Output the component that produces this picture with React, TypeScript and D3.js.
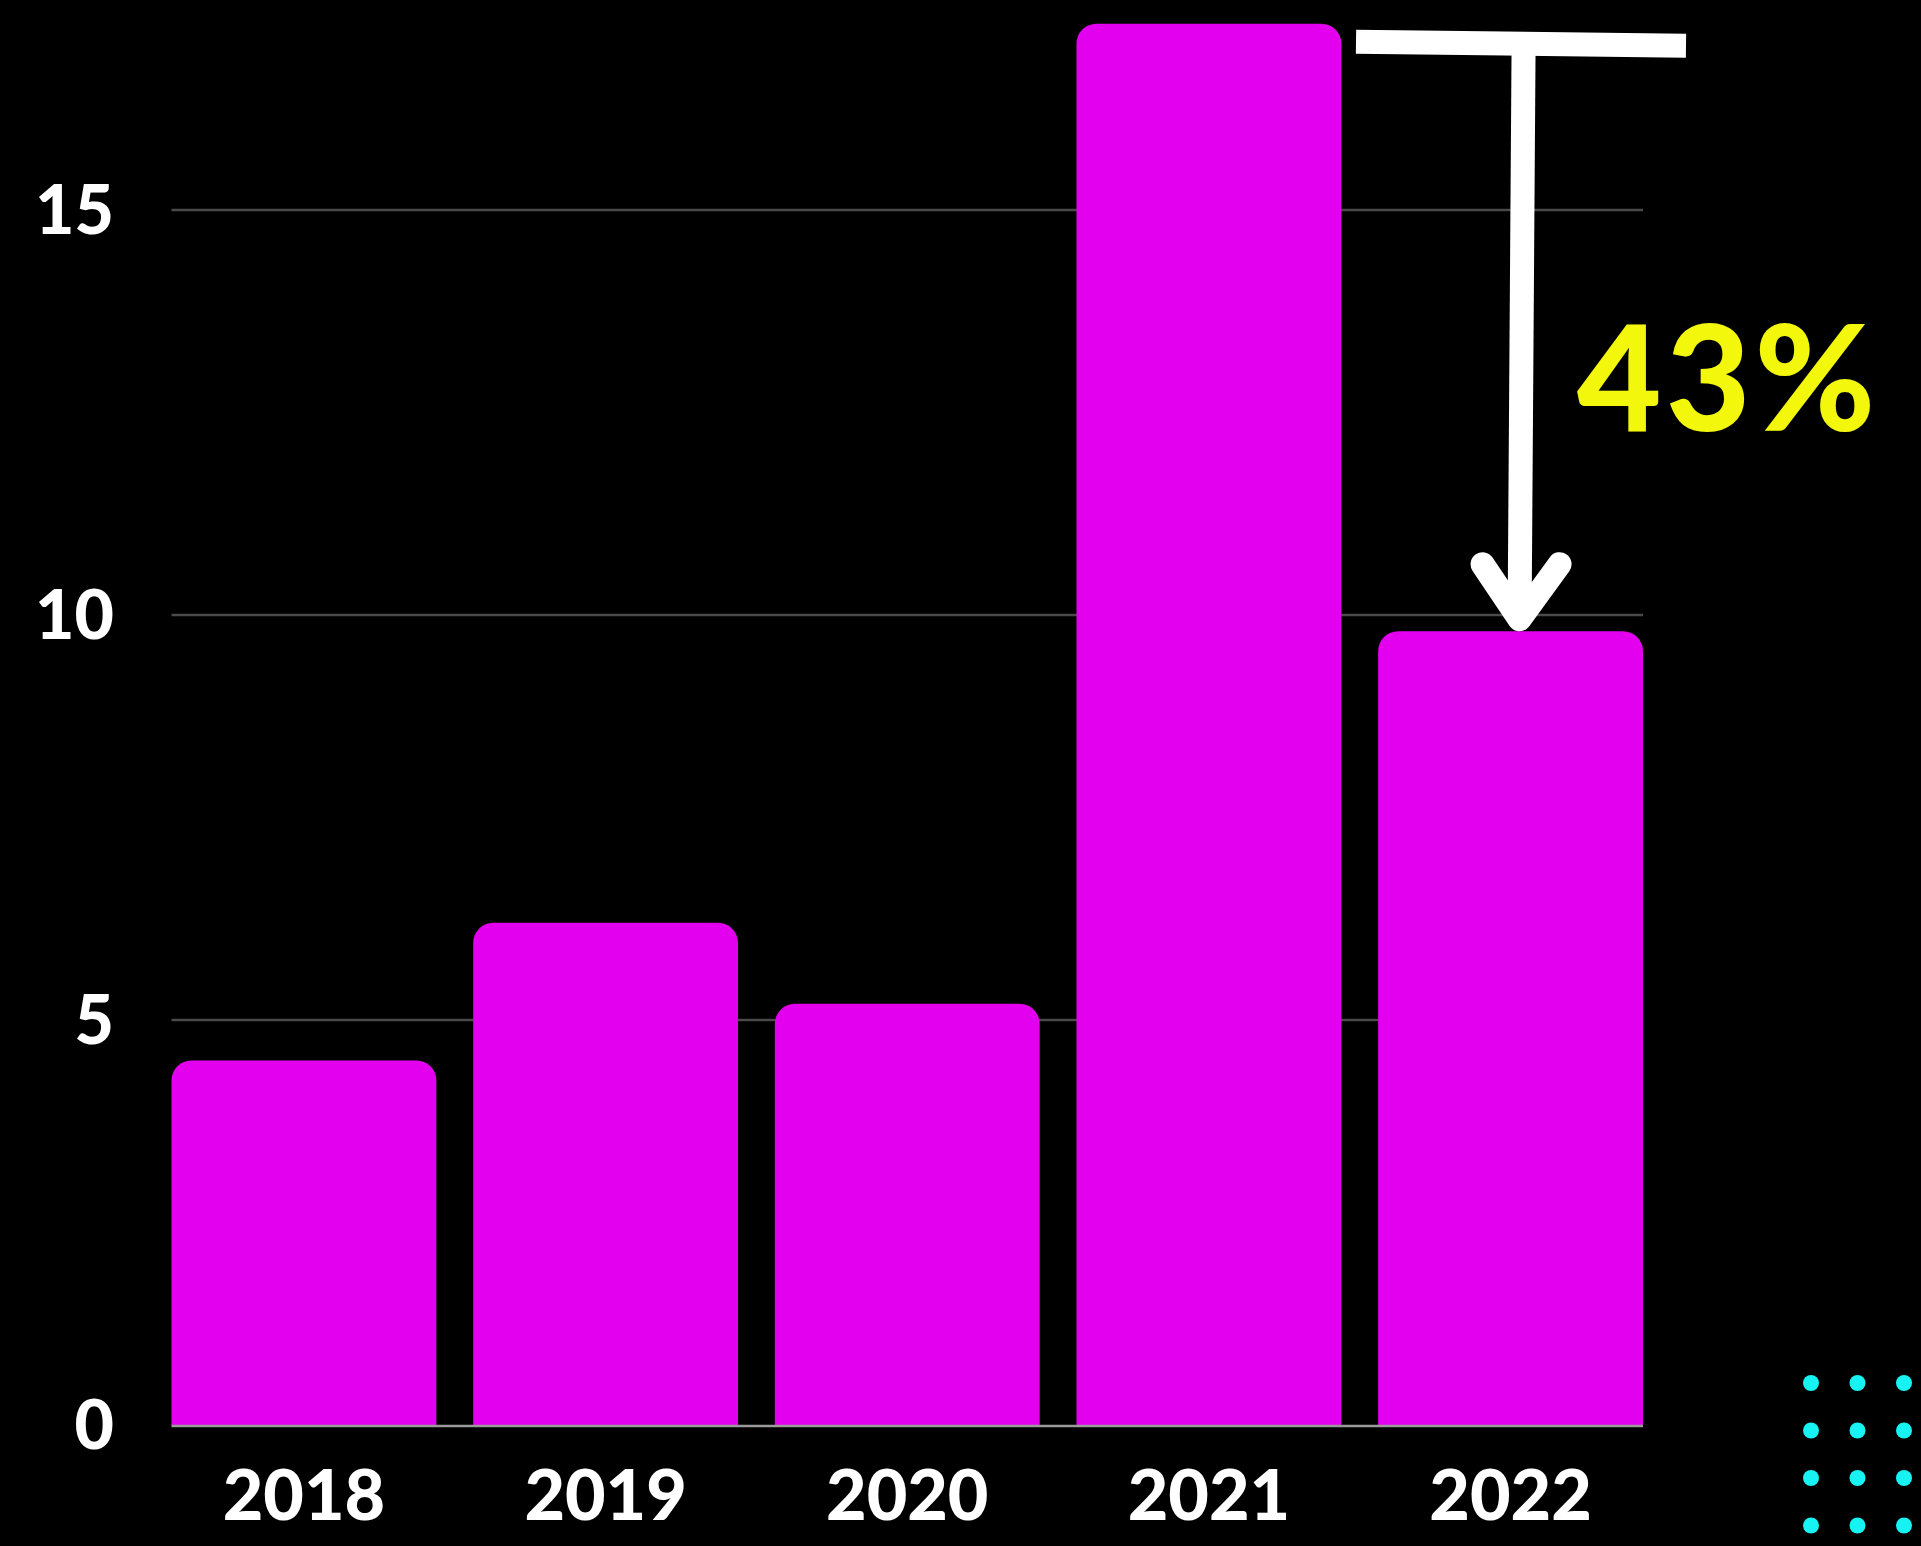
import React from "react";
import * as d3 from "d3";

const years = ["2018", "2019", "2020", "2021", "2022"];
const values = [4.5, 6.2, 5.2, 17.3, 9.8];
const yTicks = [0, 5, 10, 15];

const W = 1921;
const H = 1546;
const FONT = "Lato, 'Open Sans', sans-serif";

export default function App() {
  const x = d3.scaleBand<string>().domain(years).range([171.5, 1643]).paddingInner(0.122).paddingOuter(0);
  const y = d3.scaleLinear().domain([0, 15]).range([1425, 210]);
  const bw = x.bandwidth();
  const r = 20;

  const barPath = (xs: number, yt: number, w: number, yb: number) => {
    const p = d3.path();
    p.moveTo(xs, yb);
    p.lineTo(xs, yt + r);
    p.arcTo(xs, yt, xs + r, yt, r);
    p.lineTo(xs + w - r, yt);
    p.arcTo(xs + w, yt, xs + w, yt + r, r);
    p.lineTo(xs + w, yb);
    p.closePath();
    return p.toString();
  };

  const fromV = values[3];
  const toV = values[4];
  const pct = Math.round((1 - toV / fromV) * 100);
  const cx = (x(years[4]) as number) + bw / 2 + 10;
  const topY = y(fromV) + 20;
  const tipY = y(toV) - 12;
  const head = 55;

  const dotCols = d3.range(3);
  const dotRows = d3.range(4);

  return (
    <div style={{ position: "absolute", left: 0, top: 0, width: W, height: H, background: "#000" }}>
      <svg width={W} height={H} style={{ display: "block" }}>
        <rect x={0} y={0} width={W} height={H} fill="#000" />
        {yTicks.filter((t) => t > 0).map((t) => (
          <line key={t} x1={171.5} x2={1643} y1={y(t)} y2={y(t)} stroke="#4a4a4a" strokeWidth={2.5} />
        ))}
        {years.map((yr, i) => (
          <path key={yr} d={barPath(x(yr) as number, y(values[i]), bw, y(0))} fill="#E300EE" />
        ))}
        <line x1={171.5} x2={1643} y1={y(0) + 1} y2={y(0) + 1} stroke="#9a9a9a" strokeWidth={2.5} />
        {yTicks.map((t) => (
          <text key={t} x={114} y={y(t)} dy="0.36em" textAnchor="end" fill="#fff"
            fontFamily={FONT} fontWeight={900} fontSize={68}>{t}</text>
        ))}
        {years.map((yr) => (
          <text key={yr} x={(x(yr) as number) + bw / 2} y={1520} textAnchor="middle" fill="#fff"
            fontFamily={FONT} fontWeight={900} fontSize={70}>{yr}</text>
        ))}
        {/* annotation */}
        <line x1={1356} y1={topY - 2} x2={1686} y2={topY + 2} stroke="#fff" strokeWidth={24} />
        <line x1={cx + 3} y1={topY + 4} x2={cx - 1} y2={tipY} stroke="#fff" strokeWidth={24} />
        <polyline points={`${cx - 38},${tipY - head} ${cx - 1},${tipY} ${cx + 39},${tipY - head}`}
          fill="none" stroke="#fff" strokeWidth={24} strokeLinecap="round" strokeLinejoin="round" />
        <text x={1577} y={431} fill="#F2F70C" fontFamily={FONT} fontWeight={900} fontSize={146}
          letterSpacing={4}>{pct}%</text>
        {dotRows.map((ri) => dotCols.map((ci) => (
          <circle key={`${ri}-${ci}`} cx={1811 + ci * 46.5} cy={1383 + ri * 47.5} r={8} fill="#17F3F3" />
        )))}
      </svg>
    </div>
  );
}
